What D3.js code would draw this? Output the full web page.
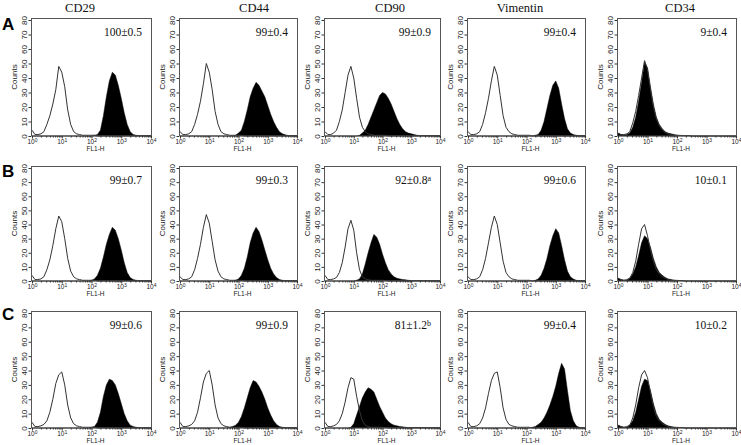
<!DOCTYPE html>
<html>
<head>
<meta charset="utf-8">
<script src="https://cdn.jsdelivr.net/npm/d3@7"></script>
<style>
  body { margin: 0; background: #fff; }
  svg { display: block; }
  .title { font-family: "Liberation Serif", "Times New Roman", serif; font-size: 12.5px; fill: #111; text-anchor: middle; }
  .rowlab { font-family: "Liberation Sans", Arial, sans-serif; font-size: 17px; font-weight: bold; fill: #000; }
  .pct { font-family: "Liberation Serif", "Times New Roman", serif; font-size: 11.5px; fill: #111; text-anchor: end; }
  .axis text { font-family: "Liberation Sans", Arial, sans-serif; fill: #222; }
  .axis line { stroke: #333; }
  .axis path { display: none; }
  .lab { font-family: "Liberation Sans", Arial, sans-serif; fill: #222; text-anchor: middle; }
  .frame { fill: none; stroke: #555; stroke-width: 1; }
  .stain { fill: #000; stroke: #000; stroke-width: 0.5; }
  .iso { fill: none; stroke: #333; stroke-width: 1; }
</style>
</head>
<body>
<div id="chart"></div>
<script>
var markers = ["CD29", "CD44", "CD90", "Vimentin", "CD34"];
var rowNames = ["A", "B", "C"];
var percents = [
  ["100\u00b10.5", "99\u00b10.4", "99\u00b10.9", "99\u00b10.4", "9\u00b10.4"],
  ["99\u00b10.7", "99\u00b10.3", "92\u00b10.8", "99\u00b10.6", "10\u00b10.1"],
  ["99\u00b10.6", "99\u00b10.9", "81\u00b11.2", "99\u00b10.4", "10\u00b10.2"]
];
var superscripts = [
  ["", "", "", "", ""],
  ["", "", "a", "", ""],
  ["", "", "b", "", ""]
];
var xTicks = [1, 10, 100, 1000, 10000];
var xExponents = ["0", "1", "2", "3", "4"];
var yTicks = [0, 10, 20, 30, 40, 50, 60, 70, 80];

// channel positions, log10(FL1-H), every 0.1 decade
var logChannels = d3.range(41).map(function(i) { return i / 10; });

// isotype control (open) histograms, one array per marker
var isoA = [
  [4,1,1,1.5,3,8,14,22,32,48, 44,34,18,8,3,1.5,1,0.5,0.5,0.5, 0.5,0.5,0,0,0,0,0,0,0,0, 0,0,0,0,0,0,0,0,0,0, 0],
  [3,1,1,1.5,3,8,15,24,36,50, 44,32,17,8,3,1.5,1,0.5,0.5,0.5, 0.5,0.5,0,0,0,0,0,0,0,0, 0,0,0,0,0,0,0,0,0,0, 0],
  [3,1,1,2,4,10,18,30,42,48, 40,26,13,6,3,1.5,1,0.5,0.5,0.5, 0.5,0.5,0,0,0,0,0,0,0,0, 0,0,0,0,0,0,0,0,0,0, 0],
  [3,1,1,1.5,3,8,16,26,38,48, 42,28,14,6,3,1.5,1,0.5,0.5,0.5, 0.5,0.5,0,0,0,0,0,0,0,0, 0,0,0,0,0,0,0,0,0,0, 0],
  [2,1,1,1.5,3,9,17,28,40,52, 46,32,20,12,7,4,2.5,1.5,1,0.5, 0.5,0.3,0.3,0.3,0.3,0,0,0,0,0, 0,0,0,0,0,0,0,0,0,0, 0]
];
var isoB = [
  [4,1,1,1.5,3,8,15,25,37,46, 42,30,16,7,3,1.5,1,0.5,0.5,0.5, 0.5,0.5,0,0,0,0,0,0,0,0, 0,0,0,0,0,0,0,0,0,0, 0],
  [3,1,1,1.5,3,8,16,26,38,47, 41,28,15,7,3,1.5,1,0.5,0.5,0.5, 0.5,0.5,0,0,0,0,0,0,0,0, 0,0,0,0,0,0,0,0,0,0, 0],
  [4,1,1,1.5,2.5,6,13,24,37,43, 36,20,8,3,1.5,1,0.5,0.5,0.5,0.5, 0.5,0.3,0,0,0,0,0,0,0,0, 0,0,0,0,0,0,0,0,0,0, 0],
  [3,1,1,1.5,3,8,16,27,38,46, 40,27,14,6,3,1.5,1,0.5,0.5,0.5, 0.5,0.5,0,0,0,0,0,0,0,0, 0,0,0,0,0,0,0,0,0,0, 0],
  [2,1,0.5,1,2,6,14,26,37,40, 32,22,14,8,5,3,2,1,0.5,0.5, 0.3,0.3,0.3,0,0,0,0,0,0,0, 0,0,0,0,0,0,0,0,0,0, 0]
];
var isoC = [
  [4,1,1,1.5,2.5,5,11,20,31,37, 39,30,16,7,3,1.5,1,0.5,0.5,0.5, 0.5,0.5,0,0,0,0,0,0,0,0, 0,0,0,0,0,0,0,0,0,0, 0],
  [4,1,1,1.5,2.5,5,11,21,32,38, 40,30,16,7,3,1.5,1,0.5,0.5,0.5, 0.5,0.5,0,0,0,0,0,0,0,0, 0,0,0,0,0,0,0,0,0,0, 0],
  [4,1,1,1.5,2.5,5,10,18,28,35, 34,22,12,5,2,1,0.5,0.5,0.5,0.5, 0.5,0.3,0,0,0,0,0,0,0,0, 0,0,0,0,0,0,0,0,0,0, 0],
  [4,1,1,1.5,3,7,14,24,33,38, 39,28,14,6,2.5,1.5,1,0.5,0.5,0.5, 0.5,0.5,0,0,0,0,0,0,0,0, 0,0,0,0,0,0,0,0,0,0, 0],
  [2,1,0.5,1,2,7,16,28,37,40, 35,25,15,8,5,3,2,1,0.5,0.5, 0.3,0.3,0.3,0,0,0,0,0,0,0, 0,0,0,0,0,0,0,0,0,0, 0]
];

// antibody stained (filled) histograms
var stainA = [
  [0,0,0,0,0,0,0,0,0,0, 0,0,0,0,0,0,0,0,0,0, 0,0.5,1,4,14,27,38,44,42,35, 26,16,8,3,1,0.5,0.3,0.3,0.3,0.3, 0.3],
  [0,0,0,0,0,0,0,0,0,0, 0,0,0,0,0,0,0,0,0,0.5, 2,4,10,18,27,33,37,35,31,27, 21,15,10,6,3,1.5,0.8,0.3,0.3,0.3, 0.3],
  [0,0,0,0,0,0,0,0,0,0, 0,0,0.5,2,4,8,13,18,23,28, 30,29,26,22,17,12,8,5,3,2, 1.5,1,0.5,0.3,0.3,0.3,0.3,0.3,0.3,0.3, 0.3],
  [0,0,0,0,0,0,0,0,0,0, 0,0,0,0,0,0,0,0,0,0, 0,0,0,0.5,1,4,10,19,28,35, 38,33,22,12,5,2,1,0.5,0.3,0.3, 0.3],
  [2,1,0.5,1,2,6,13,24,37,51, 47,34,22,13,8,5,3,2,1.5,1, 0.5,0.5,0.3,0.3,0.3,0,0,0,0,0, 0,0,0,0,0,0,0,0,0,0, 0]
];
var stainB = [
  [0,0,0,0,0,0,0,0,0,0, 0,0,0,0,0,0,0,0,0,0, 0.5,1.5,4,9,17,26,33,38,36,30, 22,13,6,2.5,1,0.5,0.3,0.3,0.3,0.3, 0.3],
  [0,0,0,0,0,0,0,0,0,0, 0,0,0,0,0,0,0,0,0,0.5, 1.5,4,9,17,27,34,38,35,29,22, 15,9,5,2.5,1,0.5,0.3,0.3,0.3,0.3, 0.3],
  [0,0,0,0,0,0,0,0,0,0, 0,0.5,1.5,5,12,20,27,33,31,26, 19,13,8,5,3,2,1.5,1,0.8,0.5, 0.3,0.3,0.3,0.3,0.3,0.3,0.3,0.3,0.3,0.3, 0.3],
  [0,0,0,0,0,0,0,0,0,0, 0,0,0,0,0,0,0,0,0,0, 0,0,0,0.5,1.5,4,9,16,25,32, 37,34,25,15,7,3,1.5,0.5,0.3,0.3, 0.3],
  [2,1,0.5,0.5,2,5,10,18,27,32, 30,24,16,10,6,4,2.5,1.5,1,0.5, 0.5,0.3,0.3,0,0,0,0,0,0,0, 0,0,0,0,0,0,0,0,0,0, 0]
];
var stainC = [
  [0,0,0,0,0,0,0,0,0,0, 0,0,0,0,0,0,0,0,0,0, 0.5,1,4,11,22,30,34,33,30,24, 17,10,5,2,1,0.5,0.3,0.3,0.3,0.3, 0.3],
  [0,0,0,0,0,0,0,0,0,0, 0,0,0,0,0,0,0,0.5,1,2, 4,8,14,21,28,33,32,29,25,20, 14,9,5,2.5,1,0.5,0.3,0.3,0.3,0.3, 0.3],
  [0,0,0,0,0,0,0,0,0,0.5, 3,9,15,21,25,28,27,25,20,15, 11,7,4.5,3,2,1.5,1,0.8,0.5,0.3, 0.3,0.3,0.3,0.3,0.3,0.3,0.3,0.3,0.3,0.3, 0.3],
  [0,0,0,0,0,0,0,0,0,0, 0,0,0,0,0,0,0,0,0,0, 0,0,0.5,1,2.5,4,7,11,16,22, 29,38,45,41,26,12,5,1.5,0.5,0.3, 0.3],
  [2,1,0.5,0.5,2,5,11,20,29,34, 33,26,17,10,6,4,2.5,1.5,1,0.5, 0.5,0.3,0.3,0,0,0,0,0,0,0, 0,0,0,0,0,0,0,0,0,0, 0]
];
var isoRows = [isoA, isoB, isoC];
var stainRows = [stainA, stainB, stainC];

// page layout
var W = 741, H = 445;
var colLeft = [31, 179, 324, 467, 617];
var colWidth = [121, 119, 117, 119, 120];
var titleX = [80, 254, 390, 520, 680];
var rowTop = [18, 166, 311];
var rowBottom = [136, 281, 428];
var rowLabelY = [30, 177, 320];

var svg = d3.select("#chart").append("svg")
    .attr("width", W)
    .attr("height", H);

svg.selectAll(".title")
    .data(markers)
  .enter().append("text")
    .attr("class", "title")
    .attr("x", function(d, i) { return titleX[i]; })
    .attr("y", 12)
    .text(function(d) { return d; });

svg.selectAll(".rowlab")
    .data(rowNames)
  .enter().append("text")
    .attr("class", "rowlab")
    .attr("x", 2)
    .attr("y", function(d, i) { return rowLabelY[i]; })
    .text(function(d) { return d; });

function drawPanel(r, c) {
  var w = colWidth[c], h = rowBottom[r] - rowTop[r];
  var g = svg.append("g")
      .attr("transform", "translate(" + colLeft[c] + "," + rowTop[r] + ")");

  var x = d3.scaleLog().domain([1, 10000]).range([1, w - 1]);
  var y = d3.scaleLinear().domain([0, 80]).range([h, 2]);

  var fx = function(d, i) { return x(Math.pow(10, logChannels[i])); };

  var area = d3.area()
      .x(fx)
      .y0(h)
      .y1(function(d) { return y(d); });
  var line = d3.line()
      .x(fx)
      .y(function(d) { return y(d); });

  g.append("path")
      .attr("class", "stain")
      .attr("d", area(stainRows[r][c]));
  g.append("path")
      .attr("class", "iso")
      .attr("d", line(isoRows[r][c]));

  g.append("rect")
      .attr("class", "frame")
      .attr("x", 0.5).attr("y", 0.5)
      .attr("width", w - 1).attr("height", h - 0.5);

  // x axis, log decades with superscript exponents
  var minor = [];
  xTicks.slice(0, 4).forEach(function(t) {
    for (var k = 2; k < 10; k++) minor.push(t * k);
  });
  g.append("g")
      .attr("class", "axis")
      .attr("transform", "translate(0," + h + ")")
      .call(d3.axisBottom(x).tickValues(minor).tickSize(1.5).tickFormat(""));
  var xa = g.append("g")
      .attr("class", "axis")
      .attr("transform", "translate(0," + h + ")")
      .call(d3.axisBottom(x).tickValues(xTicks).tickSize(2.5).tickFormat(""));
  xa.selectAll(".tick text").each(function(d, i) {
    var t = d3.select(this)
        .style("font-size", "6.5px")
        .attr("y", 8)
        .attr("dy", 0);
    t.append("tspan").text("10");
    t.append("tspan").attr("dy", "-0.45em").style("font-size", "5px").text(xExponents[i]);
  });

  var ya = g.append("g")
      .attr("class", "axis")
      .call(d3.axisLeft(y).tickValues(yTicks).tickSize(2.5));
  ya.selectAll(".tick text")
      .attr("x", 0).attr("dy", 0)
      .attr("transform", "translate(-4,0) rotate(-90)")
      .style("text-anchor", "middle")
      .style("font-size", "8px");

  g.append("text")
      .attr("class", "lab")
      .attr("transform", "translate(-14," + (h / 2) + ") rotate(-90)")
      .style("font-size", "8px")
      .text("Counts");

  g.append("text")
      .attr("class", "lab")
      .attr("x", w / 2 + 4)
      .attr("y", h + 15)
      .style("font-size", "6.5px")
      .text("FL1-H");

  var p = g.append("text")
      .attr("class", "pct")
      .attr("x", w - 10)
      .attr("y", 18);
  p.append("tspan").text(percents[r][c]);
  if (superscripts[r][c]) {
    p.append("tspan")
        .attr("dy", "-0.4em")
        .style("font-size", "8px")
        .text(superscripts[r][c]);
  }
}

for (var r = 0; r < rowNames.length; r++) {
  for (var c = 0; c < markers.length; c++) {
    drawPanel(r, c);
  }
}
</script>
</body>
</html>
